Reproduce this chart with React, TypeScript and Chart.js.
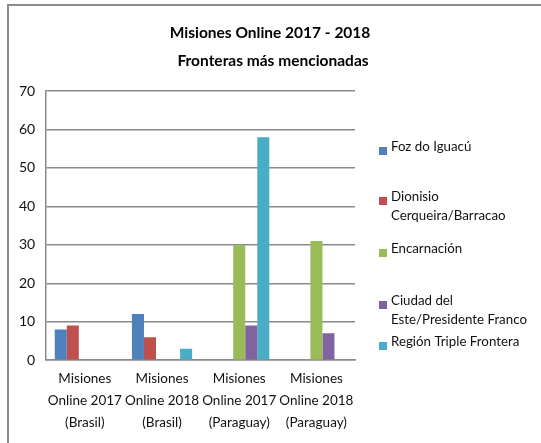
import React, { useEffect, useRef } from 'react';
import { Chart, registerables } from 'chart.js';

Chart.register(...registerables);

const titleLines = ['Misiones Online 2017 - 2018', 'Fronteras más mencionadas'];
const categories = [
  ['Misiones', 'Online 2017', '(Brasil)'],
  ['Misiones', 'Online 2018', '(Brasil)'],
  ['Misiones', 'Online 2017', '(Paraguay)'],
  ['Misiones', 'Online 2018', '(Paraguay)'],
];
const seriesNames = [
  'Foz do Iguacú',
  'Dionisio Cerqueira/Barracao',
  'Encarnación',
  'Ciudad del Este/Presidente Franco',
  'Región Triple Frontera',
];
const legendLines = [
  ['Foz do Iguacú'],
  ['Dionisio', 'Cerqueira/Barracao'],
  ['Encarnación'],
  ['Ciudad del', 'Este/Presidente Franco'],
  ['Región Triple Frontera'],
];
const fozDoIguacu = [8, 12, 0, 0];
const dionisioCerqueira = [9, 6, 0, 0];
const encarnacion = [0, 0, 30, 31];
const ciudadDelEste = [0, 0, 9, 7];
const regionTripleFrontera = [0, 3, 58, 0];
const yMin = 0;
const yMax = 70;
const yStep = 10;

const seriesValues = [fozDoIguacu, dionisioCerqueira, encarnacion, ciudadDelEste, regionTripleFrontera];
const seriesColors = ['#4F81BD', '#C0504D', '#9BBB59', '#8064A2', '#4BACC6'];

const FONT = 'Lato, Carlito, "Open Sans", sans-serif';

const decorPlugin = {
  id: 'decor',
  afterDraw(chart: any) {
    const ctx = chart.ctx as CanvasRenderingContext2D;
    ctx.save();
    // title
    ctx.fillStyle = '#000';
    ctx.textAlign = 'center';
    ctx.textBaseline = 'middle';
    ctx.font = `bold 15.5px ${FONT}`;
    ctx.fillText(titleLines[0], 270, 33);
    ctx.fillText(titleLines[1], 273, 61);
    // legend
    const entryY = [147, 197, 249, 301, 342];
    const lh = 18.5;
    ctx.font = `13.3px ${FONT}`;
    ctx.textAlign = 'left';
    legendLines.forEach((lines, i) => {
      const ds = chart.data.datasets[i];
      ctx.fillStyle = ds.backgroundColor;
      ctx.fillRect(379, entryY[i], 8, 8);
      ctx.fillStyle = '#111';
      lines.forEach((t, j) => ctx.fillText(t, 391, entryY[i] + j * lh));
    });
    ctx.restore();
  },
};

export default function App() {
  const ref = useRef<HTMLCanvasElement | null>(null);
  useEffect(() => {
    if (!ref.current) return;
    const chart = new Chart(ref.current, {
      type: 'bar',
      data: {
        labels: categories,
        datasets: seriesNames.map((name, i) => ({
          label: name,
          data: seriesValues[i],
          backgroundColor: seriesColors[i],
          borderWidth: 0,
          categoryPercentage: 0.78,
          barPercentage: 1,
        })),
      },
      options: {
        animation: false,
        responsive: false,
        maintainAspectRatio: false,
        layout: { padding: { top: 91, left: 8, right: 186, bottom: 2 } },
        plugins: {
          legend: { display: false },
          title: { display: false },
          tooltip: { enabled: false },
        },
        scales: {
          x: {
            grid: { display: false, drawTicks: false },
            border: { display: true, color: '#8a8a8a', width: 1.5 },
            ticks: {
              color: '#111',
              padding: 8,
              maxRotation: 0,
              autoSkip: false,
              font: { family: FONT, size: 13.5, lineHeight: 1.6 },
            },
          },
          y: {
            min: yMin,
            max: yMax,
            grid: { color: '#8a8a8a', lineWidth: 1.5, drawTicks: false },
            border: { display: true, color: '#8a8a8a', width: 1.5 },
            ticks: {
              stepSize: yStep,
              color: '#111',
              padding: 11,
              font: { family: FONT, size: 14 },
            },
          },
        },
      },
      plugins: [decorPlugin],
    });
    return () => chart.destroy();
  }, []);

  return (
    <div style={{ position: 'absolute', left: 0, top: 0, width: 541, height: 443, background: '#fff' }}>
      <canvas ref={ref} width={541} height={443} style={{ position: 'absolute', left: 0, top: 0, width: 541, height: 443 }} />
      <div
        style={{
          position: 'absolute',
          left: 7,
          top: 4,
          width: 534,
          height: 439,
          borderLeft: '2px solid #8c8c8c',
          borderTop: '2px solid #8c8c8c',
          boxSizing: 'border-box',
          pointerEvents: 'none',
        }}
      />
    </div>
  );
}
